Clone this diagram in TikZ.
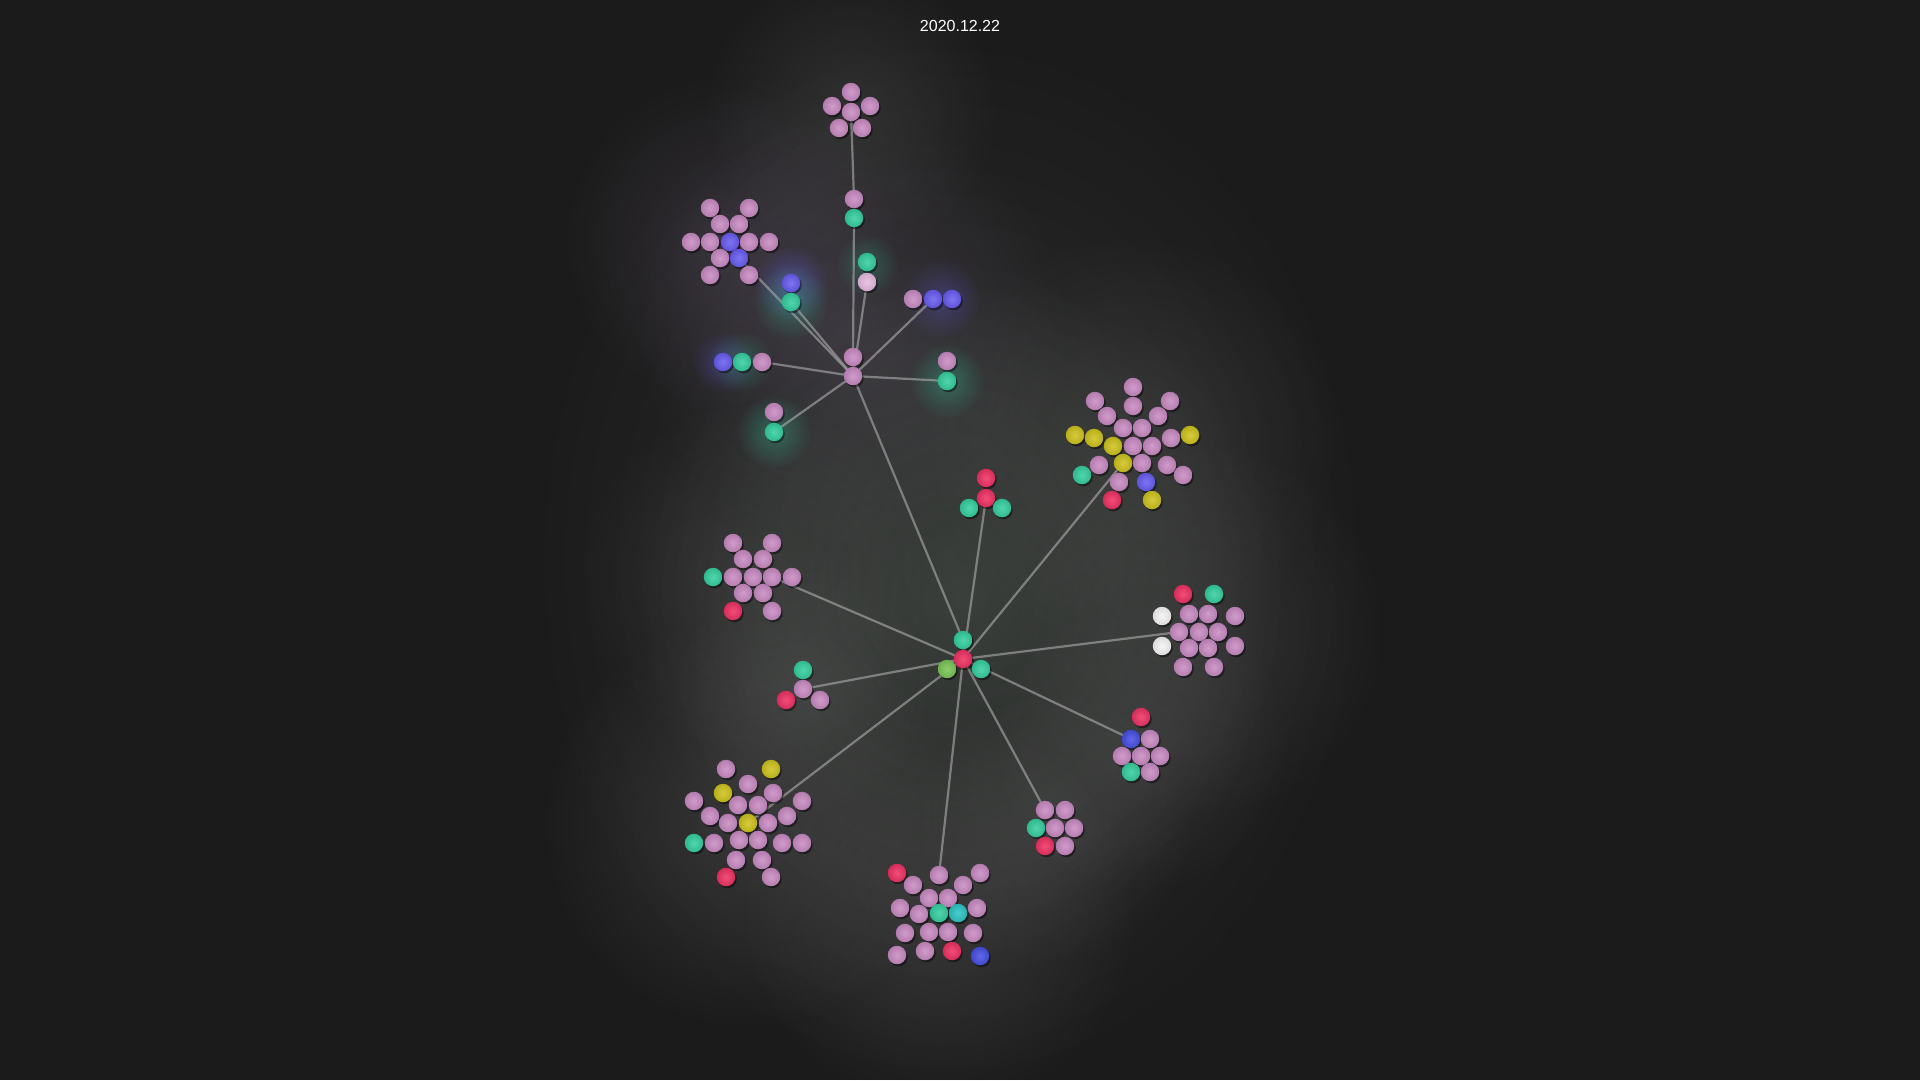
\documentclass[tikz,border=0pt]{standalone}
\usepackage{fontspec}
\setmainfont{Liberation Sans}
\usetikzlibrary{fadings,shadows}
\tikzfading[name=myfade, inner color=transparent!0, outer color=transparent!100]
\definecolor{bgc}{RGB}{27,27,27}
\definecolor{hazec}{RGB}{140,140,140}
\definecolor{hazep}{RGB}{150,130,165}
\definecolor{hazeg}{RGB}{120,145,125}
\definecolor{linkc}{RGB}{165,165,165}
\definecolor{bpink}{RGB}{200,138,194}
\definecolor{bgreen}{RGB}{52,206,158}
\definecolor{bred}{RGB}{238,48,98}
\definecolor{bblue}{RGB}{104,92,240}
\definecolor{bdblue}{RGB}{70,78,228}
\definecolor{byel}{RGB}{206,194,28}
\definecolor{blgreen}{RGB}{122,196,86}
\definecolor{bwhite}{RGB}{244,244,244}
\definecolor{blpink}{RGB}{228,186,222}
\definecolor{bteal}{RGB}{44,196,196}
\pgfdeclarelayer{bglayer}
\pgfdeclarelayer{edgelayer}
\pgfsetlayers{bglayer,edgelayer,main}
\tikzset{
  ball/.style={circle, minimum size=18.5pt, inner sep=0pt, shade,
    inner color=#1!85!white, outer color=#1!90!black,
    drop shadow={shadow xshift=1.5pt, shadow yshift=-2pt, opacity=0.45, fill=black}},
  link/.style={draw=linkc, line width=2.2pt, opacity=0.65, line cap=round},
  glow/.style={fill=#1, path fading=myfade},
  title/.style={text=white, font=\fontsize{16}{19}\selectfont, inner sep=0pt}
}
\newcommand\myball[4]{\node[ball=#2] (#1) at (#3,#4) {};}
\begin{document}
\begin{tikzpicture}[x=1pt, y=-1pt]
\useasboundingbox (0,0) rectangle (1920,1080);
\begin{pgfonlayer}{bglayer}
  \fill[bgc] (0,0) rectangle (1920,1080);
  % overall haze
  \fill[glow=hazec, opacity=0.16] (950,560) ellipse (430 and 540);
  % haze
  \fill[glow=hazec, opacity=0.18] (851,110) circle (150);
  \fill[glow=hazep, opacity=0.18] (730,240) circle (170);
  \fill[glow=hazep, opacity=0.2] (853,330) circle (220);
  \fill[glow=hazec, opacity=0.18] (1133,440) circle (210);
  \fill[glow=hazeg, opacity=0.2] (964,600) circle (330);
  \fill[glow=hazec, opacity=0.17] (753,577) circle (180);
  \fill[glow=hazec, opacity=0.17] (1200,630) circle (190);
  \fill[glow=hazec, opacity=0.17] (1141,745) circle (150);
  \fill[glow=hazec, opacity=0.17] (1055,828) circle (140);
  \fill[glow=hazec, opacity=0.15] (803,690) circle (130);
  \fill[glow=hazec, opacity=0.22] (748,823) circle (210);
  \fill[glow=hazec, opacity=0.22] (939,913) circle (200);
  % ball halos
  \fill[glow=bblue, opacity=0.4] (791,283) circle (38);
  \fill[glow=bgreen, opacity=0.35] (791,302) circle (38);
  \fill[glow=bblue, opacity=0.3] (723,362) circle (32);
  \fill[glow=bgreen, opacity=0.25] (742,362) circle (32);
  \fill[glow=bgreen, opacity=0.35] (947,381) circle (38);
  \fill[glow=bgreen, opacity=0.35] (774,432) circle (38);
  \fill[glow=bblue, opacity=0.3] (942,299) circle (40);
  \fill[glow=bgreen, opacity=0.25] (867,265) circle (32);
\end{pgfonlayer}

\node[title] (date) at (960,26) {2020.12.22};

% top cluster
\myball{T1}{bpink}{851}{92}
\myball{T2}{bpink}{832}{106}
\myball{T3}{bpink}{870}{106}
\myball{T4}{bpink}{851}{112}
\myball{T5}{bpink}{839}{128}
\myball{T6}{bpink}{862}{128}
\myball{P1}{bpink}{854}{199}
\myball{P2}{bgreen}{854}{218}
% upper-left cluster
\myball{U1}{bpink}{710}{208}
\myball{U2}{bpink}{749}{208}
\myball{U3}{bpink}{720}{224}
\myball{U4}{bpink}{739}{224}
\myball{U5}{bpink}{691}{242}
\myball{U6}{bpink}{710}{242}
\myball{U7}{bblue}{730}{242}
\myball{U8}{bpink}{749}{242}
\myball{U9}{bpink}{769}{242}
\myball{U10}{bpink}{720}{258}
\myball{U11}{bblue}{739}{258}
\myball{U12}{bpink}{710}{275}
\myball{U13}{bpink}{749}{275}
% upper hub
\myball{H0}{bpink}{853}{357}
\myball{H}{bpink}{853}{376}
\myball{Q1}{bgreen}{867}{262}
\myball{Q2}{blpink}{867}{282}
\myball{R1}{bblue}{791}{283}
\myball{R2}{bgreen}{791}{302}
\myball{S1}{bpink}{913}{299}
\myball{S2}{bblue}{933}{299}
\myball{S3}{bblue}{952}{299}
\myball{V1}{bblue}{723}{362}
\myball{V2}{bgreen}{742}{362}
\myball{V3}{bpink}{762}{362}
\myball{W1}{bpink}{947}{361}
\myball{W2}{bgreen}{947}{381}
\myball{X1}{bpink}{774}{412}
\myball{X2}{bgreen}{774}{432}
% trio above centre
\myball{Y1}{bred}{986}{478}
\myball{Y2}{bred}{986}{498}
\myball{Y3}{bgreen}{969}{508}
\myball{Y4}{bgreen}{1002}{508}
% centre hub
\myball{C0}{bgreen}{963}{640}
\myball{C}{bred}{963}{659}
\myball{C1}{blgreen}{947}{669}
\myball{C2}{bgreen}{981}{669}
% right-top cluster
\myball{RT1}{bpink}{1133}{387}
\myball{RT2}{bpink}{1095}{401}
\myball{RT3}{bpink}{1170}{401}
\myball{RT4}{bpink}{1133}{406}
\myball{RT5}{bpink}{1107}{416}
\myball{RT6}{bpink}{1158}{416}
\myball{RT7}{bpink}{1123}{428}
\myball{RT8}{bpink}{1142}{428}
\myball{RT9}{byel}{1075}{435}
\myball{RT10}{byel}{1094}{438}
\myball{RT11}{byel}{1113}{446}
\myball{RT12}{bpink}{1133}{446}
\myball{RT13}{bpink}{1152}{446}
\myball{RT14}{bpink}{1171}{438}
\myball{RT15}{byel}{1190}{435}
\myball{RT16}{bpink}{1099}{465}
\myball{RT17}{byel}{1123}{463}
\myball{RT18}{bpink}{1142}{463}
\myball{RT19}{bpink}{1167}{465}
\myball{RT20}{bgreen}{1082}{475}
\myball{RT21}{bpink}{1183}{475}
\myball{RT22}{bpink}{1119}{482}
\myball{RT23}{bblue}{1146}{482}
\myball{RT24}{bred}{1112}{500}
\myball{RT25}{byel}{1152}{500}
% left-middle cluster
\myball{LM1}{bpink}{733}{543}
\myball{LM2}{bpink}{772}{543}
\myball{LM3}{bpink}{743}{559}
\myball{LM4}{bpink}{763}{559}
\myball{LM5}{bgreen}{713}{577}
\myball{LM6}{bpink}{733}{577}
\myball{LM7}{bpink}{753}{577}
\myball{LM8}{bpink}{772}{577}
\myball{LM9}{bpink}{792}{577}
\myball{LM10}{bpink}{743}{593}
\myball{LM11}{bpink}{763}{593}
\myball{LM12}{bred}{733}{611}
\myball{LM13}{bpink}{772}{611}
% right cluster
\myball{RR1}{bred}{1183}{594}
\myball{RR2}{bgreen}{1214}{594}
\myball{RR3}{bwhite}{1162}{616}
\myball{RR4}{bpink}{1189}{614}
\myball{RR5}{bpink}{1208}{614}
\myball{RR6}{bpink}{1235}{616}
\myball{RR7}{bpink}{1179}{632}
\myball{RR8}{bpink}{1199}{632}
\myball{RR9}{bpink}{1218}{632}
\myball{RR10}{bwhite}{1162}{646}
\myball{RR11}{bpink}{1189}{648}
\myball{RR12}{bpink}{1208}{648}
\myball{RR13}{bpink}{1235}{646}
\myball{RR14}{bpink}{1183}{667}
\myball{RR15}{bpink}{1214}{667}
% lower-right cluster
\myball{LR1}{bred}{1141}{717}
\myball{LR2}{bdblue}{1131}{739}
\myball{LR3}{bpink}{1150}{739}
\myball{LR4}{bpink}{1122}{756}
\myball{LR5}{bpink}{1141}{756}
\myball{LR6}{bpink}{1160}{756}
\myball{LR7}{bgreen}{1131}{772}
\myball{LR8}{bpink}{1150}{772}
% small cluster
\myball{SM1}{bpink}{1045}{810}
\myball{SM2}{bpink}{1065}{810}
\myball{SM3}{bgreen}{1036}{828}
\myball{SM4}{bpink}{1055}{828}
\myball{SM5}{bpink}{1074}{828}
\myball{SM6}{bred}{1045}{846}
\myball{SM7}{bpink}{1065}{846}
% left trio
\myball{LT1}{bgreen}{803}{670}
\myball{LT2}{bpink}{803}{689}
\myball{LT3}{bred}{786}{700}
\myball{LT4}{bpink}{820}{700}
% lower-left cluster
\myball{LL1}{bpink}{726}{769}
\myball{LL2}{byel}{771}{769}
\myball{LL3}{bpink}{748}{784}
\myball{LL4}{byel}{723}{793}
\myball{LL5}{bpink}{773}{793}
\myball{LL6}{bpink}{694}{801}
\myball{LL7}{bpink}{738}{805}
\myball{LL8}{bpink}{758}{805}
\myball{LL9}{bpink}{802}{801}
\myball{LL10}{bpink}{710}{816}
\myball{LL11}{bpink}{787}{816}
\myball{LL12}{bpink}{728}{823}
\myball{LL13}{byel}{748}{823}
\myball{LL14}{bpink}{768}{823}
\myball{LL15}{bgreen}{694}{843}
\myball{LL16}{bpink}{714}{843}
\myball{LL17}{bpink}{739}{840}
\myball{LL18}{bpink}{758}{840}
\myball{LL19}{bpink}{782}{843}
\myball{LL20}{bpink}{802}{843}
\myball{LL21}{bpink}{736}{860}
\myball{LL22}{bpink}{762}{860}
\myball{LL23}{bred}{726}{877}
\myball{LL24}{bpink}{771}{877}
% bottom cluster
\myball{BB1}{bred}{897}{873}
\myball{BB2}{bpink}{939}{875}
\myball{BB3}{bpink}{980}{873}
\myball{BB4}{bpink}{913}{885}
\myball{BB5}{bpink}{963}{885}
\myball{BB6}{bpink}{929}{898}
\myball{BB7}{bpink}{948}{898}
\myball{BB8}{bpink}{900}{908}
\myball{BB9}{bpink}{977}{908}
\myball{BB10}{bpink}{919}{914}
\myball{BB11}{bgreen}{939}{913}
\myball{BB12}{bteal}{958}{913}
\myball{BB13}{bpink}{905}{933}
\myball{BB14}{bpink}{929}{932}
\myball{BB15}{bpink}{948}{932}
\myball{BB16}{bpink}{973}{933}
\myball{BB17}{bpink}{897}{955}
\myball{BB18}{bpink}{925}{951}
\myball{BB19}{bred}{952}{951}
\myball{BB20}{bdblue}{980}{956}

\begin{pgfonlayer}{edgelayer}
  \draw[link] (T4) -- (P1);
  \draw[link] (P2) -- (H0);
  \draw[link] (H0) -- (H);
  \draw[link] (U11) -- (H);
  \draw[link] (R2) -- (H);
  \draw[link] (Q2) -- (H);
  \draw[link] (S2) -- (H);
  \draw[link] (V3) -- (H);
  \draw[link] (W2) -- (H);
  \draw[link] (X2) -- (H);
  \draw[link] (H) -- (C0);
  \draw[link] (C0) -- (C);
  \draw[link] (Y2) -- (C);
  \draw[link] (RT17) -- (C);
  \draw[link] (LM8) -- (C);
  \draw[link] (RR7) -- (C);
  \draw[link] (LR2) -- (C);
  \draw[link] (SM1) -- (C);
  \draw[link] (BB2) -- (C);
  \draw[link] (LL13) -- (C);
  \draw[link] (LT2) -- (C);
\end{pgfonlayer}
\end{tikzpicture}
\end{document}
